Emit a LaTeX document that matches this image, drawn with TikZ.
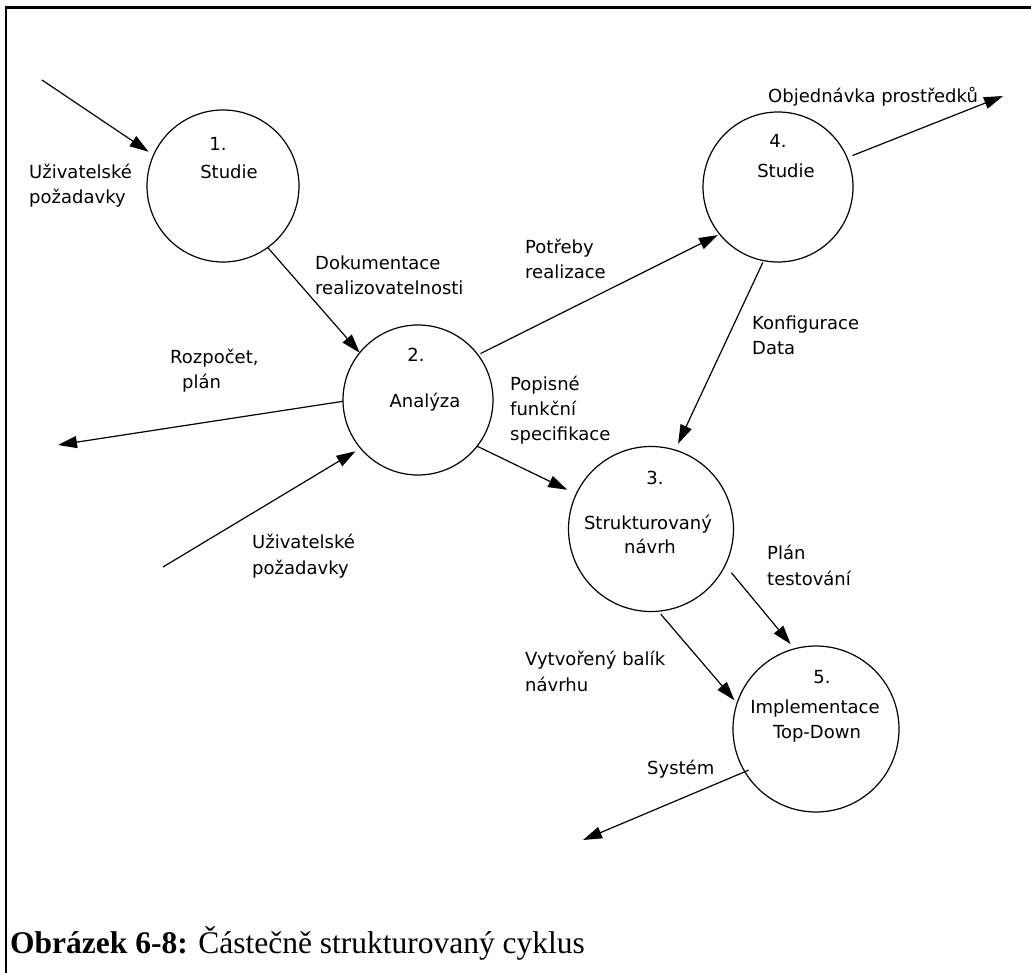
\documentclass[tikz,border=0pt]{standalone}
\usepackage{fontspec}
\setmainfont{Liberation Serif}
\newfontfamily\diafont{DejaVu Sans}
\usetikzlibrary{arrows.meta}

\begin{document}
\begin{tikzpicture}[x=1pt,y=-1pt,
  proc/.style={circle,draw,line width=1.2pt,inner sep=0pt,outer sep=0pt},
  flow/.style={line width=1.2pt,-{Triangle[length=19pt,width=12pt]}},
  lbl/.style={font=\diafont\fontsize{18}{25.5}\selectfont,align=left,inner sep=0pt,anchor=base west},
  ctr/.style={font=\diafont\fontsize{18}{25}\selectfont,inner sep=0pt,anchor=base},
]
\useasboundingbox (0,0) rectangle (1031,973);

% frame (top and left edges)
\draw[line width=2.6pt] (1031,7.5) -| (6,973);

% processes
\node[proc,minimum size=152pt] (c1) at (223,186) {};
\node[proc,minimum size=150pt] (c2) at (418,400) {};
\node[proc,minimum size=165pt] (c3) at (651,529) {};
\node[proc,minimum size=150pt] (c4) at (778,187) {};
\node[proc,minimum size=166pt] (c5) at (816,729) {};

\node[ctr] (c1num) at (218,151) {1.};
\node[ctr] (c1txt) at (229,179) {Studie};
\node[ctr] (c2num) at (416,362) {2.};
\node[ctr] (c2txt) at (425,408) {Analýza};
\node[ctr] (c3num) at (655,484) {3.};
\node[ctr] (c3txt) at (648,529) {Strukturovaný};
\node[ctr] (c3txb) at (650,553) {návrh};
\node[ctr] (c4num) at (778,148) {4.};
\node[ctr] (c4txt) at (786,178) {Studie};
\node[ctr] (c5num) at (822,683) {5.};
\node[ctr] (c5txt) at (815,713) {Implementace};
\node[ctr] (c5txb) at (817,738) {Top-Down};

% external ends
\coordinate (inA) at (42,80);
\coordinate (inB) at (163,567);
\coordinate (outBudget) at (58,445);
\coordinate (outOrder) at (1003,96);
\coordinate (outSystem) at (583,840);

% flows
\draw[flow,shorten >=6pt] (inA) -- (c1.156);
\draw[flow] (c1.-54) -- (c2.141);
\draw[flow,shorten <=3pt,shorten >=2pt] (c2.37.7) -- (c4.-141.8);
\draw[flow,shorten <=6pt] (c4.23) -- (outOrder);
\draw[flow,shorten <=2pt,shorten >=7pt] (c4.-101) -- (c3.73);
\draw[flow,shorten >=10pt] (c2.-38) -- (c3.155);
\draw[flow] (c2.181.5) -- (outBudget);
\draw[flow,shorten >=6pt] (inB) -- (c2.-140.5);
\draw[flow,shorten <=10pt,shorten >=6pt] (c3.-26.6) -- (c5.105);
\draw[flow,shorten <=4pt,shorten >=4pt] (c3.-85) -- (c5.162.6);
\draw[flow,shorten <=-4pt] (c5.-149) -- (outSystem);

% flow labels (anchored at the baseline of the last line)
\node[lbl] (lUserA) at (29,204) {Uživatelské\\požadavky};
\node[lbl] (lDoc) at (315,295) {Dokumentace\\realizovatelnosti};
\node[lbl] (lNeeds) at (525,279) {Potřeby\\realizace};
\node[lbl] (lOrder) at (768,103) {Objednávka prostředků};
\node[lbl] (lConf) at (752,355) {Konfigurace\\Data};
\node[lbl] (lBudget) at (170,389) {Rozpočet,\\\hspace*{12pt}plán};
\node[lbl] (lSpec) at (510,441) {Popisné\\funkční\\specifikace};
\node[lbl] (lUserB) at (252,574) {Uživatelské\\požadavky};
\node[lbl] (lTest) at (767,585) {Plán\\testování};
\node[lbl] (lPack) at (525,691) {Vytvořený balík\\návrhu};
\node[lbl] (lSys) at (647,774) {Systém};

% caption
\node[anchor=base west,inner sep=0pt,font=\fontsize{31.5}{37}\selectfont] (cap) at (10,953)
  {\textbf{Obrázek 6-8:} Částečně strukturovaný cyklus};
\end{tikzpicture}
\end{document}
